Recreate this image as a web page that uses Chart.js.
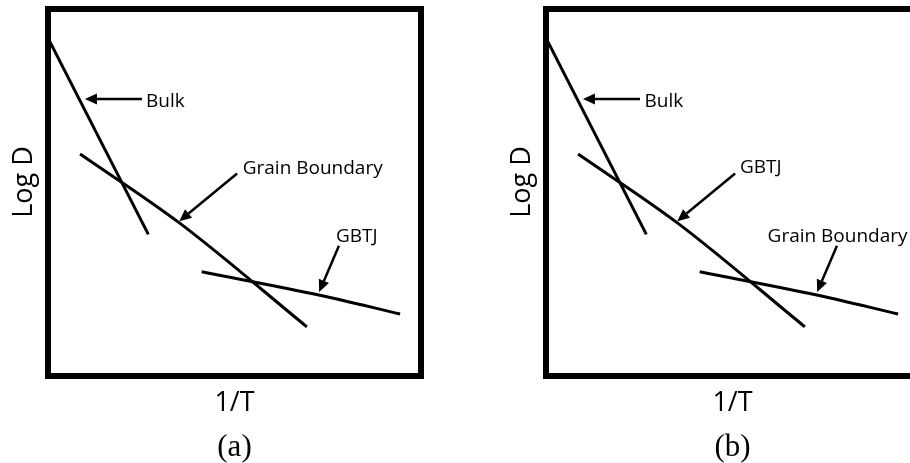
<!DOCTYPE html>
<html>
<head>
<meta charset="utf-8">
<script src="https://cdn.jsdelivr.net/npm/chart.js@4.4.1/dist/chart.umd.min.js"></script>
<style>
  html, body { margin: 0; padding: 0; background: #fff; overflow: hidden; }
  body { width: 910px; height: 463px; position: relative; }
  canvas { position: absolute; top: 0; }
  #panel-a { left: 0; }
  #panel-b { left: 498px; }
</style>
</head>
<body>
<canvas id="panel-a" width="500" height="463"></canvas>
<canvas id="panel-b" width="500" height="463"></canvas>
<script>
// Schematic Arrhenius plot, axes run 0..100 in arbitrary units.
const bulkX = [0.5, 26.9];
const bulkY = [91.1, 38.6];
const gbX = [8.6, 35.4, 69.4];
const gbY = [60.5, 41.6, 13.4];
const tjX = [41.2, 72.9, 94.4];
const tjY = [28.4, 22.0, 16.9];

// Arrow tails / heads (same in both panels)
const arrowTail = [[25.2, 75.5], [50.7, 55.2], [78.0, 35.5]];
const arrowHead = [[9.9, 75.5], [35.2, 42.2], [72.7, 22.9]];

// Label text and baseline-left anchors
const labelsA = ['Bulk', 'Grain Boundary', 'GBTJ'];
const labelPosA = [[26.3, 73.4], [52.2, 55.0], [77.2, 36.6]];
const labelsB = ['Bulk', 'GBTJ', 'Grain Boundary'];
const labelPosB = [[26.4, 73.4], [52.0, 55.2], [59.4, 36.6]];

const xTitle = '1/T';
const yTitle = '   Log D';

const toPoints = (xs, ys) => xs.map((x, i) => ({ x, y: ys[i] }));

// frame + arrows + labels, positioned through the chart's own scales
const sketchPlugin = {
    id: 'sketch',
    afterDatasetsDraw(chart, args, opts) {
        const { ctx, chartArea: a, scales: { x, y } } = chart;
        ctx.save();
        ctx.strokeStyle = '#000';
        ctx.fillStyle = '#000';

        // arrows
        opts.tails.forEach((t, i) => {
            const h = opts.heads[i];
            const x0 = x.getPixelForValue(t[0]), y0 = y.getPixelForValue(t[1]);
            const x1 = x.getPixelForValue(h[0]), y1 = y.getPixelForValue(h[1]);
            const ang = Math.atan2(y1 - y0, x1 - x0);
            const len = 12, half = 5.5;
            const bx = x1 - len * Math.cos(ang), by = y1 - len * Math.sin(ang);
            ctx.lineWidth = 2.5;
            ctx.beginPath();
            ctx.moveTo(x0, y0);
            ctx.lineTo(bx, by);
            ctx.stroke();
            ctx.beginPath();
            ctx.moveTo(x1, y1);
            ctx.lineTo(bx + half * Math.sin(ang), by - half * Math.cos(ang));
            ctx.lineTo(bx - half * Math.sin(ang), by + half * Math.cos(ang));
            ctx.closePath();
            ctx.fill();
        });

        // labels
        ctx.font = '19px "Open Sans"';
        ctx.textAlign = 'left';
        ctx.textBaseline = 'alphabetic';
        opts.texts.forEach((s, i) => {
            const p = opts.pos[i];
            ctx.fillText(s, x.getPixelForValue(p[0]), y.getPixelForValue(p[1]));
        });

        // heavy frame
        ctx.lineWidth = 6;
        ctx.strokeRect(a.left, a.top, a.right - a.left, a.bottom - a.top);
        ctx.restore();
    }
};

function makePanel(id, tag, texts, pos) {
    const line = (xs, ys) => ({
        data: toPoints(xs, ys),
        showLine: true,
        borderColor: '#000',
        borderWidth: 3,
        pointRadius: 0,
        cubicInterpolationMode: 'monotone',
    });
    const titleFont = { family: 'Open Sans', size: 27, lineHeight: 1 };
    return new Chart(document.getElementById(id), {
        type: 'scatter',
        data: { datasets: [line(bulkX, bulkY), line(gbX, gbY), line(tjX, tjY)] },
        options: {
            responsive: false,
            animation: false,
            layout: { padding: { left: 0, top: 9, right: 79, bottom: 0 } },
            plugins: {
                legend: { display: false },
                tooltip: { enabled: false },
                title: {
                    display: true, text: tag, position: 'bottom', fullSize: false,
                    color: '#000', padding: 0,
                    font: { family: 'Liberation Serif', size: 31, weight: 'normal', lineHeight: 1 },
                },
                sketch: { tails: arrowTail, heads: arrowHead, texts, pos },
            },
            scales: {
                x: {
                    type: 'linear', min: 0, max: 100,
                    ticks: { display: false },
                    grid: { display: false, drawTicks: false },
                    border: { display: false },
                    title: { display: true, text: xTitle, color: '#000', font: titleFont, padding: { top: 13.5, bottom: 15.5 } },
                },
                y: {
                    type: 'linear', min: 0, max: 100,
                    ticks: { display: false },
                    grid: { display: false, drawTicks: false },
                    border: { display: false },
                    title: { display: true, text: yTitle, color: '#000', font: titleFont, padding: { top: 10.5, bottom: 10.5 } },
                },
            },
        },
        plugins: [sketchPlugin],
    });
}

makePanel('panel-a', '(a)', labelsA, labelPosA);
makePanel('panel-b', '(b)', labelsB, labelPosB);
</script>
</body>
</html>
